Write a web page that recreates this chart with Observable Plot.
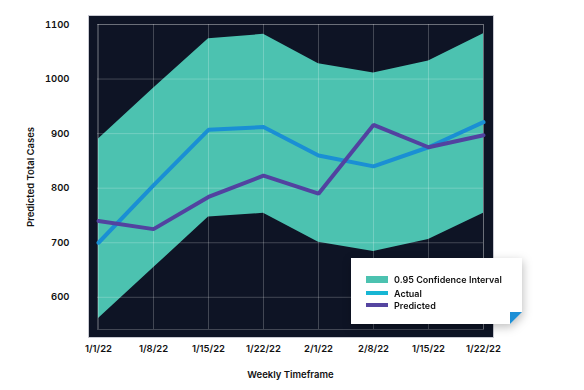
<!DOCTYPE html>
<html>
<head>
<meta charset="utf-8">
<script src="https://cdn.jsdelivr.net/npm/d3@7"></script>
<script src="https://cdn.jsdelivr.net/npm/@observablehq/plot@0.6"></script>
<style>
  html, body { margin: 0; padding: 0; background: #ffffff; }
  #wrap { position: relative; width: 584px; height: 390px; }
  #legend-shadow { position: absolute; left: 351px; top: 258px; width: 171px; height: 66px; filter: drop-shadow(1px 3px 5px rgba(0,0,0,0.25)); }
  #legend { position: absolute; inset: 0; background: #fff; clip-path: polygon(0 0, 100% 0, 100% 81%, 93% 100%, 0 100%); font-family: Inter, "Noto Sans", sans-serif; font-weight: 600; font-size: 9px; color: #111; }
  #fold { position: absolute; right: 0; bottom: 0; width: 12px; height: 12px; }
  .item { position: absolute; left: 15px; display: flex; align-items: center; }
  .sw { width: 22px; margin-right: 6px; }
</style>
</head>
<body>
<div id="wrap"></div>
<script>
const weeks = ["1/1/22", "1/8/22", "1/15/22", "1/22/22", "2/1/22", "2/8/22", "1/15/22", "1/22/22"];
const ciUpper = [890, 983, 1074, 1082, 1028, 1011, 1033, 1083];
const ciLower = [561, 654, 747, 754, 701, 684, 706, 754];
const actual = [700, 805, 907, 912, 860, 840, 875, 921];
const predicted = [740, 725, 784, 823, 790, 916, 875, 897];
const yTicks = [600, 700, 800, 900, 1000, 1100];
const legendLabels = ["0.95 Confidence Interval", "Actual", "Predicted"];

const data = weeks.map((w, i) => ({i, w, hi: ciUpper[i], lo: ciLower[i], act: actual[i], pred: predicted[i]}));

const font = "Inter, 'Noto Sans', sans-serif";

const chart = Plot.plot({
  width: 584,
  height: 390,
  marginLeft: 97,
  marginRight: 101,
  marginTop: 24,
  marginBottom: 61,
  style: {fontFamily: font, fontSize: "9.5px", fontWeight: 600, color: "#111", background: "transparent", overflow: "visible"},
  x: {type: "point", domain: d3.range(weeks.length), padding: 0},
  y: {domain: [541, 1100]},
  marks: [
    Plot.frame({fill: "#0e1425", stroke: "#c9cad2", strokeWidth: 1, insetLeft: -9, insetRight: -10, insetTop: -9, insetBottom: -8}),
    Plot.areaY(data, {x: "i", y1: "lo", y2: "hi", fill: "#4cc2b0", curve: "linear"}),
    Plot.gridX({ticks: d3.range(weeks.length), stroke: "#ffffff", strokeOpacity: 0.22, strokeWidth: 1}),
    Plot.gridY({ticks: yTicks, stroke: "#ffffff", strokeOpacity: 0.22, strokeWidth: 1}),
    Plot.frame({stroke: "#ffffff", strokeOpacity: 0.22}),
    Plot.lineY(data, {x: "i", y: "act", stroke: "#1a8fd4", strokeWidth: 4, strokeLinejoin: "miter"}),
    Plot.lineY(data, {x: "i", y: "pred", stroke: "#5242a0", strokeWidth: 4, strokeLinejoin: "miter"}),
    Plot.axisX({ticks: d3.range(weeks.length), tickFormat: i => weeks[i], tickSize: 0, tickPadding: 16, label: "Weekly Timeframe", labelAnchor: "center", labelArrow: "none", labelOffset: 48, fontWeight: 600}),
    Plot.axisY({ticks: yTicks, tickFormat: d => String(d), tickSize: 0, tickPadding: 28, label: "Predicted Total Cases", labelAnchor: "center", labelArrow: "none", labelOffset: 70})
  ]
});
document.getElementById("wrap").appendChild(chart);

// Legend overlay
const ls = document.createElement("div");
ls.id = "legend-shadow";
const lg = document.createElement("div");
lg.id = "legend";
const swatches = [
  {color: "#4cc2b0", h: 7},
  {color: "#17b6d4", h: 4},
  {color: "#5545a0", h: 4}
];
const tops = [21, 35, 47];
legendLabels.forEach((t, k) => {
  const it = document.createElement("div");
  it.className = "item";
  it.style.top = (tops[k] - 5) + "px";
  it.style.height = "10px";
  const sw = document.createElement("div");
  sw.className = "sw";
  sw.style.height = swatches[k].h + "px";
  sw.style.background = swatches[k].color;
  const tx = document.createElement("span");
  tx.textContent = t;
  it.appendChild(sw);
  it.appendChild(tx);
  lg.appendChild(it);
});
ls.appendChild(lg);
const fold = document.createElementNS("http://www.w3.org/2000/svg", "svg");
fold.setAttribute("id", "fold");
fold.setAttribute("viewBox", "0 0 12 12");
fold.innerHTML = '<polygon points="0,0 12,0 0,12" fill="#1d8fd6"/>';
ls.appendChild(fold);
document.getElementById("wrap").appendChild(ls);
</script>
</body>
</html>
